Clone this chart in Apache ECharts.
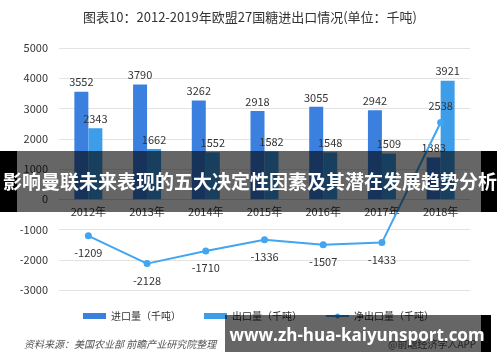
<!DOCTYPE html>
<html><head><meta charset="utf-8">
<script src="https://cdn.jsdelivr.net/npm/echarts@6/dist/echarts.min.js"></script>
<style>html,body{margin:0;padding:0;background:#fff}#c{width:500px;height:362px}</style>
</head><body><div id="c"></div>
<script>
var categories = ['2012年','2013年','2014年','2015年','2016年','2017年','2018年'];
var imports = [3552, 3790, 3262, 2918, 3055, 2942, 1383];
var exports = [2343, 1662, 1552, 1582, 1548, 1509, 3921];
var netExports = [-1209, -2128, -1710, -1336, -1507, -1433, 2538];
var yTicks = [-3000, 5000, 1000];

var font = '"Microsoft YaHei","Noto Sans CJK SC",sans-serif';
var gridTop = 48, gridBottom = 72, H = 362;
var plotH = H - gridTop - gridBottom;
var zeroOffset = -plotH * (0 - yTicks[0]) / (yTicks[1] - yTicks[0]);
var chart = echarts.init(document.getElementById('c'), null, {renderer:'canvas'});
chart.setOption({
  animation:false,
  textStyle:{fontFamily:font},
  title:{text:'图表10：2012-2019年欧盟27国糖进出口情况(单位：千吨)',left:'center',top:6,
    textStyle:{fontSize:13,fontWeight:'normal',color:'#333',fontFamily:font}},
  grid:{left:59,right:30,top:gridTop,bottom:gridBottom},
  legend:{top:306,left:78,itemWidth:23,itemHeight:6,itemGap:23,
    textStyle:{fontSize:10,color:'#333',fontFamily:font},
    data:[{name:'进口量（千吨）',icon:'rect'},{name:'出口量（千吨）',icon:'rect'},{name:'净出口量（千吨）'}]},
  xAxis:{type:'category',data:categories,offset:zeroOffset,
    axisLine:{onZero:false,lineStyle:{color:'#d9d9d9'}},axisTick:{show:false},
    axisLabel:{fontSize:11,color:'#333',margin:7}},
  yAxis:{type:'value',min:yTicks[0],max:yTicks[1],interval:yTicks[2],
    axisLine:{show:false},axisTick:{show:false},
    axisLabel:{fontSize:11,color:'#333',margin:11,formatter:function(v){return String(v);}},
    splitLine:{lineStyle:{color:'#e3e3e3'}}},
  series:[
    {name:'进口量（千吨）',type:'bar',data:imports,barWidth:14,barGap:'0%',
     itemStyle:{color:'#3b80de'},
     label:{show:true,position:'top',fontSize:11,color:'#333',distance:4}},
    {name:'出口量（千吨）',type:'bar',data:exports,barWidth:14,
     itemStyle:{color:'#3d9de9'},
     label:{show:true,position:'top',fontSize:11,color:'#333',distance:4}},
    {name:'净出口量（千吨）',type:'line',data:netExports.map(function(v,i){
        return i===netExports.length-1?{value:v,label:{position:'top'}}:v;}),
     symbol:'circle',symbolSize:7,
     lineStyle:{color:'#42a5f0',width:2},itemStyle:{color:'#42a5f0'},
     label:{show:true,position:'bottom',fontSize:11,color:'#333',distance:8}}
  ],
  graphic:[
    {type:'text',left:24,top:339,style:{text:'资料来源：美国农业部 前瞻产业研究院整理',fill:'#555',font:'italic 10px '+font}},
    {type:'text',left:388,top:339,style:{text:'@前瞻经济学人APP',fill:'#555',font:'10px '+font}},
    {type:'rect',shape:{x:0,y:151,width:17,height:61},style:{fill:'#000'},z:100},
    {type:'rect',shape:{x:17,y:151,width:464,height:61},style:{fill:'rgba(0,0,0,0.6)'},z:100},
    {type:'rect',shape:{x:481,y:151,width:16,height:61},style:{fill:'#000'},z:100},
    {type:'text',x:250,y:182,style:{text:'影响曼联未来表现的五大决定性因素及其潜在发展趋势分析',fill:'#fff',
      font:'bold 19px '+font,textAlign:'center',textVerticalAlign:'middle'},z:101},
    {type:'rect',shape:{x:225,y:315,width:256,height:37},style:{fill:'rgba(0,0,0,0.6)'},z:100},
    {type:'rect',shape:{x:481,y:315,width:10,height:37},style:{fill:'#000'},z:100},
    {type:'text',x:357,y:336,style:{text:'www.zh-hua-kaiyunsport.com',fill:'#fff',
      font:'bold 17px "Open Sans","DejaVu Sans",sans-serif',textAlign:'center',textVerticalAlign:'middle'},z:101}
  ]
});
</script></body></html>
